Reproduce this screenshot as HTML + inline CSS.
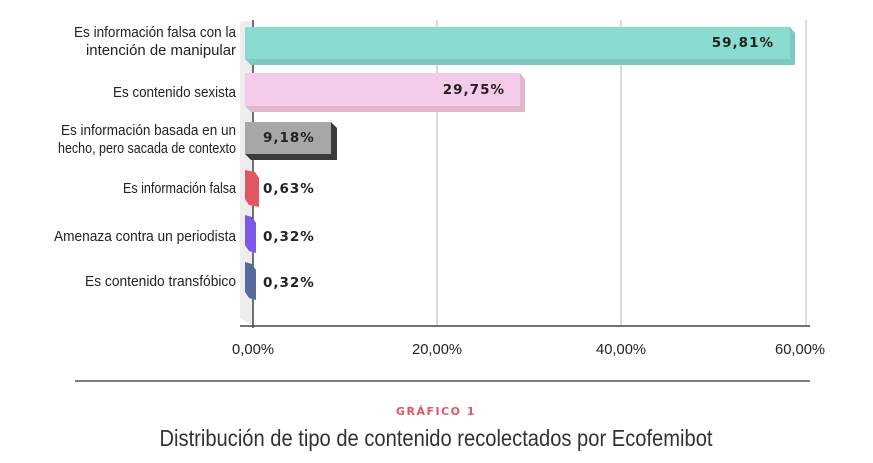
<!DOCTYPE html>
<html><head><meta charset="utf-8"><style>
html,body{margin:0;padding:0;background:#fff;}
svg{display:block;}
.l{font-family:"Liberation Sans",sans-serif;font-size:15px;fill:#222;}
.v{font-family:"DejaVu Sans",sans-serif;font-weight:bold;font-size:13.5px;fill:#222;letter-spacing:1px;}
</style></head><body>
<svg width="873" height="463" viewBox="0 0 873 463" xmlns="http://www.w3.org/2000/svg">
<rect width="873" height="463" fill="#fff"/>
<polygon points="240,22 253,20 253,326 240,318" fill="#ededed"/>
<line x1="437" y1="20" x2="437" y2="326" stroke="#d0d0d0" stroke-width="1.5"/>
<line x1="621" y1="20" x2="621" y2="326" stroke="#d0d0d0" stroke-width="1.5"/>
<line x1="806" y1="20" x2="806" y2="326" stroke="#d0d0d0" stroke-width="1.5"/>
<line x1="253" y1="20" x2="253" y2="328" stroke="#444" stroke-width="1.5"/>
<line x1="240" y1="326" x2="810" y2="326" stroke="#444" stroke-width="1.5"/>
<polygon points="245,27 790,27 795,33 795,65 251,65 245,59" fill="#7ec9bd"/>
<rect x="245" y="27" width="545" height="32" fill="#8bdcd0"/>
<polygon points="245,73 520,73 525,79 525,112 251,112 245,106" fill="#e2b7cd"/>
<rect x="245" y="73" width="275" height="33" fill="#f4cbe9"/>
<polygon points="245,122 331,122 337,128 337,160 251,160 245,154" fill="#3a3a3a"/>
<rect x="245" y="122" width="86" height="32" fill="#a7a7a7"/>
<polygon points="245,170 255,172 259,178 259,207 249,205 245,199" fill="#e25563"/>
<polygon points="245,215 252,217 256,223 256,253 249,251 245,245" fill="#7b59e8"/>
<polygon points="245,262 252,264 256,270 256,300 249,298 245,292" fill="#566b9c"/>
<text class="v" x="774" y="47" text-anchor="end">59,81%</text>
<text class="v" x="505" y="94" text-anchor="end">29,75%</text>
<text class="v" x="263" y="142">9,18%</text>
<text class="v" x="263" y="193">0,63%</text>
<text class="v" x="263" y="241">0,32%</text>
<text class="v" x="263" y="287">0,32%</text>
<g class="l" text-anchor="end">
<text x="236" y="37" textLength="162" lengthAdjust="spacingAndGlyphs">Es información falsa con la</text>
<text x="236" y="55" textLength="150" lengthAdjust="spacingAndGlyphs">intención de manipular</text>
<text x="236" y="97" textLength="123" lengthAdjust="spacingAndGlyphs">Es contenido sexista</text>
<text x="236" y="135" textLength="175" lengthAdjust="spacingAndGlyphs">Es información basada en un</text>
<text x="236" y="153" textLength="178" lengthAdjust="spacingAndGlyphs">hecho, pero sacada de contexto</text>
<text x="236" y="193" textLength="113" lengthAdjust="spacingAndGlyphs">Es información falsa</text>
<text x="236" y="241" textLength="182" lengthAdjust="spacingAndGlyphs">Amenaza contra un periodista</text>
<text x="236" y="286" textLength="151" lengthAdjust="spacingAndGlyphs">Es contenido transfóbico</text>
</g>
<g class="l" text-anchor="middle">
<text x="253" y="354" textLength="42" lengthAdjust="spacingAndGlyphs">0,00%</text>
<text x="437" y="354" textLength="50" lengthAdjust="spacingAndGlyphs">20,00%</text>
<text x="621" y="354" textLength="50" lengthAdjust="spacingAndGlyphs">40,00%</text>
<text x="800" y="354" textLength="50" lengthAdjust="spacingAndGlyphs">60,00%</text>
</g>
<line x1="75" y1="381" x2="810" y2="381" stroke="#555" stroke-width="1.5"/>
<text x="436" y="415" text-anchor="middle" font-family="DejaVu Sans, sans-serif" font-weight="bold" font-size="11" fill="#e25563" letter-spacing="1.5">GRÁFICO 1</text>
<text x="436" y="446" text-anchor="middle" font-family="Liberation Sans, sans-serif" font-size="23" fill="#333" textLength="553" lengthAdjust="spacingAndGlyphs">Distribución de tipo de contenido recolectados por Ecofemibot</text>
</svg>
</body></html>
